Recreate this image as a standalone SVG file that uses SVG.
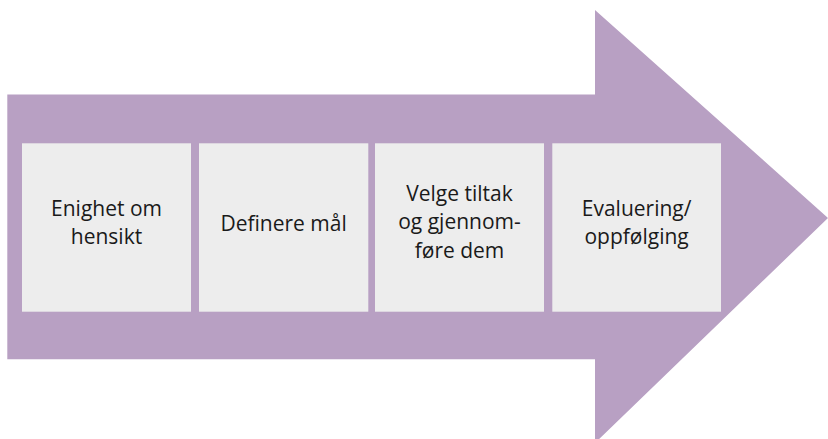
<svg xmlns="http://www.w3.org/2000/svg" width="828" height="439" viewBox="0 0 828 439">
<style>
.box{fill:#EDEDED;}
.lbl{font-family:"Open Sans","Liberation Sans",sans-serif;font-size:21px;fill:#1a1a1a;text-anchor:middle;}
</style>
<rect width="828" height="439" fill="#FFFFFF"/>
<g id="arrow">
<polygon points="7.3,94.5 595,94.5 595,10 828,218 595,443 595,359.3 7.3,359.3" fill="#B8A0C3"/>
</g>
<g id="connectors"></g>
<g id="node1">
<rect class="box" x="22" y="143.3" width="169" height="168.4"/>
<text class="lbl" x="106.5" y="216">Enighet om</text>
<text class="lbl" x="106.5" y="243.5">hensikt</text>
</g>
<g id="node2">
<rect class="box" x="199" y="143.3" width="169.3" height="168.4"/>
<text class="lbl" x="283.6" y="230.5">Definere mål</text>
</g>
<g id="node3">
<rect class="box" x="375" y="143.3" width="169" height="168.4"/>
<text class="lbl" x="459.5" y="200.7">Velge tiltak</text>
<text class="lbl" x="459.5" y="229.3">og gjennom-</text>
<text class="lbl" x="459.5" y="257.7">føre dem</text>
</g>
<g id="node4">
<rect class="box" x="552.3" y="143.3" width="168.7" height="168.4"/>
<text class="lbl" x="636.6" y="216">Evaluering/</text>
<text class="lbl" x="636.6" y="243.5">oppfølging</text>
</g>
</svg>
